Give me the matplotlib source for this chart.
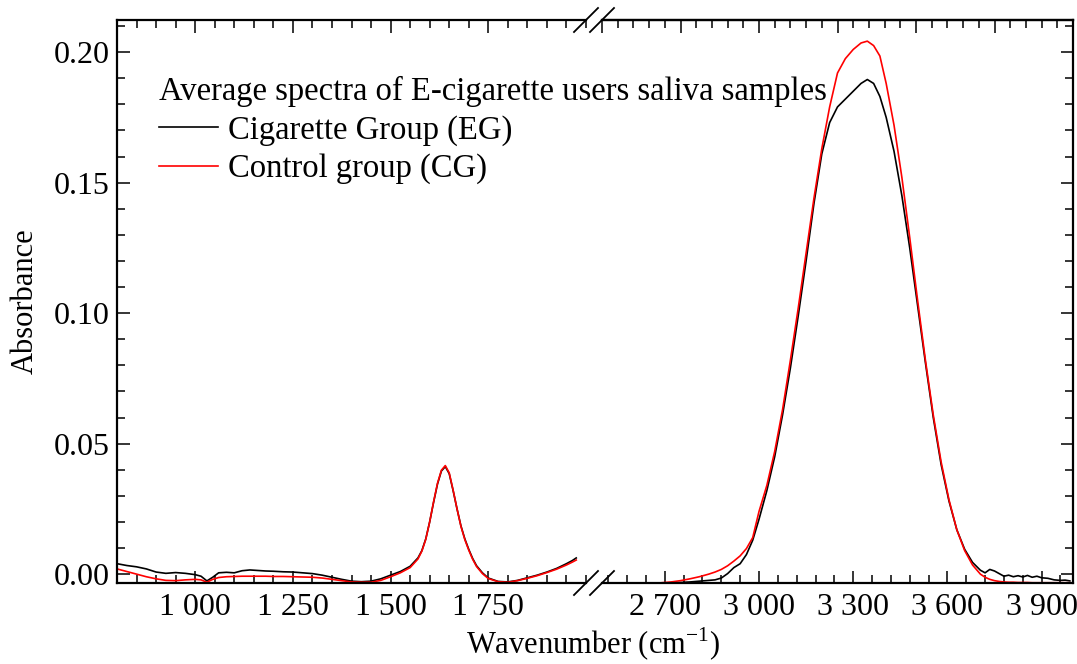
import numpy as np
import matplotlib.pyplot as plt
from matplotlib.ticker import MultipleLocator, FixedLocator, FuncFormatter
from matplotlib.lines import Line2D

plt.rcParams['font.family'] = ['Liberation Serif', 'DejaVu Serif']
plt.rcParams['mathtext.fontset'] = 'custom'
plt.rcParams['mathtext.rm'] = 'Liberation Serif'

# fingerprint region (left panel)
wn_low = [800, 825, 850, 875, 900, 925, 950, 975, 1000, 1015, 1030, 1045, 1060, 1080,
          1100, 1120, 1140, 1160, 1180, 1200, 1225, 1250, 1275, 1300, 1325, 1350, 1375,
          1400, 1425, 1450, 1475, 1500, 1525, 1550, 1570, 1580, 1590, 1600, 1610, 1620,
          1630, 1640, 1650, 1660, 1670, 1680, 1690, 1700, 1710, 1720, 1735, 1750, 1775,
          1800, 1825, 1850, 1875, 1900, 1925, 1950, 1965, 1975]
eg_low = [0.0040, 0.0033, 0.0028, 0.0020, 0.0008, 0.0003, 0.0006, 0.0003, -0.0002, -0.0008,
          -0.0026, -0.0012, 0.0005, 0.0007, 0.0005, 0.0013, 0.0016, 0.0014, 0.0012, 0.0011,
          0.0009, 0.0008, 0.0005, 0.0002, -0.0004, -0.0012, -0.0020, -0.0027, -0.0029,
          -0.0027, -0.0018, -0.0004, 0.0010, 0.0030, 0.0062, 0.0090, 0.0135, 0.0200, 0.0275,
          0.0345, 0.0395, 0.0412, 0.0385, 0.0320, 0.0250, 0.0185, 0.0135, 0.0095, 0.0060,
          0.0032, 0.0005, -0.0015, -0.0028, -0.0030, -0.0024, -0.0014, -0.0004, 0.0008,
          0.0022, 0.0040, 0.0052, 0.0062]
cg_low = [0.0020, 0.0010, 0.0000, -0.0010, -0.0018, -0.0024, -0.0025, -0.0022, -0.0020,
          -0.0022, -0.0031, -0.0020, -0.0013, -0.0010, -0.0009, -0.0008, -0.0008, -0.0008,
          -0.0008, -0.0009, -0.0009, -0.0010, -0.0011, -0.0012, -0.0015, -0.0020, -0.0025,
          -0.0030, -0.0031, -0.0031, -0.0024, -0.0010, 0.0005, 0.0025, 0.0058, 0.0088, 0.0133,
          0.0200, 0.0277, 0.0348, 0.0398, 0.0416, 0.0388, 0.0322, 0.0250, 0.0183, 0.0132,
          0.0092, 0.0057, 0.0029, 0.0002, -0.0017, -0.0029, -0.0031, -0.0025, -0.0016,
          -0.0006, 0.0006, 0.0019, 0.0035, 0.0046, 0.0054]

# O-H / C-H stretching region (right panel)
wn_high = [2690, 2720, 2750, 2780, 2810, 2840, 2860, 2880, 2900, 2920, 2940, 2960, 2980,
           3000, 3025, 3050, 3075, 3100, 3125, 3150, 3175, 3200, 3225, 3250, 3275, 3300,
           3325, 3345, 3365, 3385, 3405, 3430, 3455, 3480, 3505, 3530, 3555, 3580, 3605,
           3630, 3655, 3680, 3705, 3720, 3735, 3750, 3765, 3780, 3795, 3810, 3825, 3840,
           3855, 3870, 3885, 3900, 3920, 3940, 3960, 3975, 3990]
eg_high = [-0.0034, -0.0033, -0.0032, -0.0030, -0.0027, -0.0024, -0.0022, -0.0015, 0.0002,
           0.0025, 0.0040, 0.0075, 0.0130, 0.0210, 0.0320, 0.0450, 0.0610, 0.0790, 0.0990,
           0.1200, 0.1420, 0.1610, 0.1730, 0.1790, 0.1820, 0.1850, 0.1880, 0.1895, 0.1880,
           0.1830, 0.1750, 0.1620, 0.1450, 0.1250, 0.1030, 0.0810, 0.0600, 0.0420, 0.0280,
           0.0170, 0.0095, 0.0045, 0.0015, 0.0005, 0.0018, 0.0012, 0.0002, -0.0008, -0.0004,
           -0.0010, -0.0006, -0.0011, -0.0005, -0.0012, -0.0008, -0.0014, -0.0016, -0.0022,
           -0.0024, -0.0023, -0.0026]
cg_high = [-0.0033, -0.0030, -0.0025, -0.0018, -0.0010, 0.0000, 0.0008, 0.0018, 0.0032,
           0.0050, 0.0070, 0.0098, 0.0140, 0.0240, 0.0340, 0.0470, 0.0630, 0.0820, 0.1020,
           0.1230, 0.1440, 0.1630, 0.1790, 0.1920, 0.1975, 0.2010, 0.2035, 0.2042, 0.2025,
           0.1985, 0.1880, 0.1720, 0.1520, 0.1290, 0.1050, 0.0820, 0.0610, 0.0430, 0.0285,
           0.0170, 0.0090, 0.0035, 0.0000, -0.0012, -0.0020, -0.0025, -0.0028, -0.0030,
           -0.0031, -0.0031, -0.0032, -0.0032, -0.0032, -0.0033, -0.0033, -0.0033, -0.0033,
           -0.0033, -0.0033, -0.0033, -0.0033]

ymin, ymax = -0.0034, 0.2123
fs = 23.5
fs_tick = 23
fs_label = 22

fig = plt.figure(figsize=(10.77, 6.64), dpi=100)
W, H = 1077, 664
ax1 = fig.add_axes([117 / W, 81 / H, (586 - 117) / W, 563 / H])
ax2 = fig.add_axes([602 / W, 81 / H, (1073 - 602) / W, 563 / H])


def thousands(v, pos):
    return f'{int(round(v)):,}'.replace(',', ' ')


for ax in (ax1, ax2):
    ax.set_ylim(ymin, ymax)
    for s in ax.spines.values():
        s.set_linewidth(1.6)
    ax.tick_params(which='both', direction='in', width=1.1, labelsize=fs_tick, pad=7)
    ax.tick_params(axis='y', pad=5)
    ax.tick_params(which='major', length=9)
    ax.tick_params(which='minor', length=6)
    ax.yaxis.set_major_locator(MultipleLocator(0.05))
    ax.yaxis.set_minor_locator(MultipleLocator(0.01))
    ax.xaxis.set_major_formatter(FuncFormatter(thousands))

ax1.plot(wn_low, eg_low, color='black', lw=1.2)
ax1.plot(wn_low, cg_low, color='#ff0000', lw=1.2)
ax2.plot(wn_high, eg_high, color='black', lw=1.2, label='Cigarette Group (EG)')
ax2.plot(wn_high, cg_high, color='#ff0000', lw=1.2, label='Control group (CG)')

ax1.set_xlim(800, 2000)
ax1.xaxis.set_major_locator(FixedLocator([1000, 1250, 1500, 1750]))
ax1.xaxis.set_minor_locator(MultipleLocator(50))
ax1.spines['right'].set_visible(False)
ax1.tick_params(which='both', top=True, right=False)
ax1.yaxis.set_major_formatter(FuncFormatter(lambda v, p: f'{v:.2f}'))
ax1.set_ylabel('Absorbance', fontsize=fs_label, labelpad=10)

ax2.set_xlim(2500, 4000)
ax2.xaxis.set_major_locator(FixedLocator([2700, 3000, 3300, 3600, 3900]))
ax2.xaxis.set_minor_locator(MultipleLocator(60))
ax2.spines['left'].set_visible(False)
ax2.tick_params(which='both', left=False, labelleft=False, right=True)

# top axis of the right panel uses a 250/50 grid
top = ax2.secondary_xaxis('top')
top.xaxis.set_major_locator(MultipleLocator(250))
top.xaxis.set_minor_locator(MultipleLocator(50))
top.tick_params(which='both', direction='in', width=1.1, labeltop=False)
top.tick_params(which='major', length=9)
top.tick_params(which='minor', length=6)
top.spines['top'].set_linewidth(1.6)

# axis break marks
for xc in (586, 602):
    for yc in (81, 644):
        fig.add_artist(Line2D([(xc - 12) / W, (xc + 12) / W], [(yc - 12) / H, (yc + 12) / H],
                              color='black', lw=1.3))

fig.text(593 / W, 1 / H, 'Wavenumber (cm$^{\\mathrm{-1}}$)', ha='center', va='bottom',
         fontsize=fs_label)

handles = [Line2D([], [], color='black', lw=1.2), Line2D([], [], color='#ff0000', lw=1.2)]
leg = fig.legend(handles, ['Cigarette Group (EG)', 'Control group (CG)'],
                 title='Average spectra of E-cigarette users saliva samples',
                 loc='upper left', bbox_to_anchor=(159 / W, 1 - 76 / H), frameon=False,
                 fontsize=fs, title_fontsize=fs, handlelength=1.8, handletextpad=0.32,
                 labelspacing=0.24, borderaxespad=0, borderpad=0)
leg._legend_box.align = 'left'

fig.savefig('out.png', dpi=100)
